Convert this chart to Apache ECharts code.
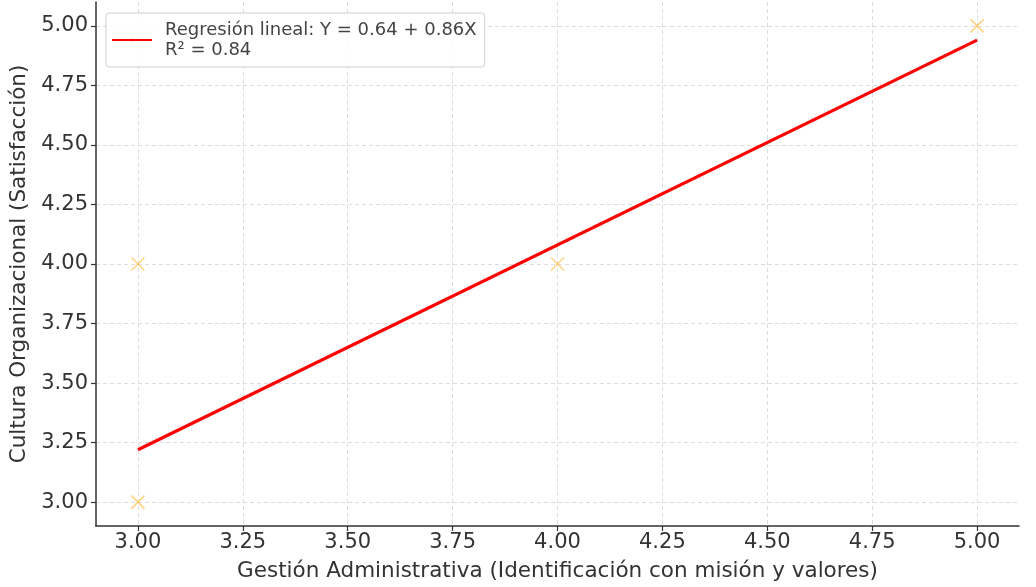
<!DOCTYPE html>
<html>
<head>
<meta charset="utf-8">
<script src="https://cdn.jsdelivr.net/npm/echarts@6/dist/echarts.min.js"></script>
<style>
  html, body { margin: 0; padding: 0; background: #fff; }
  #chart { width: 1036px; height: 587px; }
</style>
</head>
<body>
<div id="chart"></div>
<script>
// datos observados
var gestion = [3, 3, 4, 5]
var cultura = [3, 4, 4, 5]
// recta de regresión (extremos)
var rectaX = [3, 5]
var rectaY = [3.22, 4.94]
var ticks = [3.00, 3.25, 3.50, 3.75, 4.00, 4.25, 4.50, 4.75, 5.00]
var leyenda = 'Regresión lineal: Y = 0.64 + 0.86X\nR² = 0.84'

var font = 'DejaVu Sans'
var puntos = gestion.map(function (x, i) { return [x, cultura[i]] })
var recta = rectaX.map(function (x, i) { return [x, rectaY[i]] })

function eje(nombre, isY) {
  return {
    type: 'value',
    min: 2.9,
    max: 5.1,
    name: nombre,
    nameLocation: 'middle',
    nameGap: isY ? 65 : 34,
    nameTextStyle: { fontFamily: font, fontSize: 21.5, color: '#333' },
    axisLine: { show: true, lineStyle: { color: '#333', width: 1.5 } },
    axisTick: { show: true, length: 5, customValues: ticks, lineStyle: { color: '#333', width: 1.2 } },
    axisLabel: {
      customValues: ticks,
      margin: isY ? 8 : 6,
      fontFamily: font,
      fontSize: 21,
      color: '#333',
      formatter: function (v) { return v.toFixed(2) }
    },
    splitLine: { show: true, lineStyle: { color: '#d4d4d4', type: [4, 3], width: 0.8 } }
  }
}

var chart = echarts.init(document.getElementById('chart'))
chart.setOption({
  animation: false,
  backgroundColor: '#fff',
  grid: { left: 96, right: 17, top: 2, bottom: 61 },
  legend: {
    left: 106,
    top: 13,
    orient: 'vertical',
    data: [leyenda],
    itemWidth: 40,
    itemHeight: 3,
    itemGap: 0,
    padding: [7, 8, 7, 5],
    borderColor: '#d0d0d0',
    borderWidth: 1,
    borderRadius: 3,
    backgroundColor: 'rgba(255,255,255,0.85)',
    textStyle: { fontFamily: font, fontSize: 18, color: '#444', lineHeight: 20, padding: [0, 0, 0, 8] }
  },
  xAxis: eje('Gestión Administrativa (Identificación con misión y valores)', false),
  yAxis: eje('Cultura Organizacional (Satisfacción)', true),
  series: [
    {
      name: 'Datos',
      type: 'scatter',
      data: puntos,
      symbol: 'path://M0,0L10,10M10,0L0,10',
      symbolSize: 13,
      itemStyle: { color: 'none', borderColor: 'rgba(255,165,0,0.6)', borderWidth: 1.6 },
      z: 3
    },
    {
      name: leyenda,
      type: 'line',
      data: recta,
      showSymbol: false,
      symbol: 'none',
      lineStyle: { color: '#ff0000', width: 3.2 },
      itemStyle: { color: '#ff0000' },
      z: 4
    }
  ]
})
</script>
</body>
</html>
